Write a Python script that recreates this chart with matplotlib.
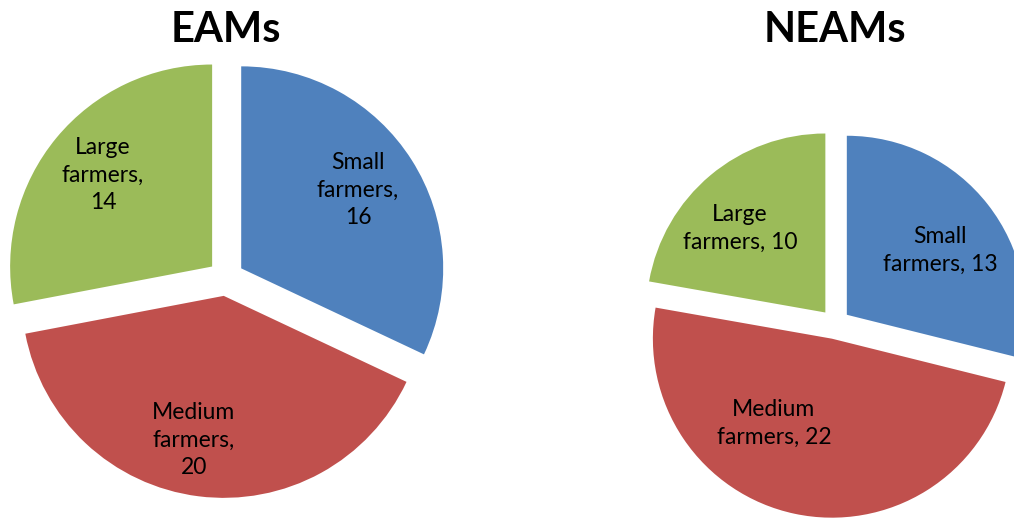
import matplotlib
matplotlib.use('Agg')
import matplotlib.pyplot as plt

# ── Données ─────────────────────────────────────────────────
categories = ['Small farmers', 'Medium farmers', 'Large farmers']
eams_values = [16, 20, 14]
neams_values = [13, 22, 10]
titles = ['EAMs', 'NEAMs']

# texte des étiquettes (retours à la ligne comme dans l'original)
eams_labels = ['Small\nfarmers,\n16', 'Medium\nfarmers,\n20', 'Large\nfarmers,\n14']
neams_labels = ['Small\nfarmers, 13', 'Medium\nfarmers, 22', 'Large\nfarmers, 10']

colors = ['#4F81BD', '#C0504D', '#9BBB59']

# ── Mise en page (coordonnées en pixels, origine en bas) ─────
W, H = 1014, 518
pies = [
    dict(values=eams_values, labels=eams_labels, title=titles[0],
         center=(226, 240), radius=202, explode=18,
         label_pos=[(358, 328), (194, 78), (103, 343)]),
    dict(values=neams_values, labels=neams_labels, title=titles[1],
         center=(835, 194), radius=179, explode=15,
         label_pos=[(940, 268), (774, 95), (740, 290)]),
]

plt.rcParams['font.family'] = ['Lato', 'DejaVu Sans']

fig = plt.figure(figsize=(W / 100, H / 100), dpi=100)
ax = fig.add_axes([0, 0, 1, 1])

for p in pies:
    ax.pie(p['values'], colors=colors, startangle=90, counterclock=False,
           center=p['center'], radius=p['radius'],
           explode=[p['explode']] * len(p['values']),
           wedgeprops=dict(linewidth=0))
    for txt, (x, y) in zip(p['labels'], p['label_pos']):
        ax.text(x, y, txt, ha='center', va='center', fontsize=16.5,
                linespacing=1.4, color='black')
    ax.text(p['center'][0], H - 42, p['title'], ha='center', va='baseline',
            fontsize=30, fontweight='bold', color='black')

ax.set_xlim(0, W)
ax.set_ylim(0, H)
ax.set_aspect('auto')
ax.axis('off')

plt.savefig('out.png', dpi=100)
plt.close()
